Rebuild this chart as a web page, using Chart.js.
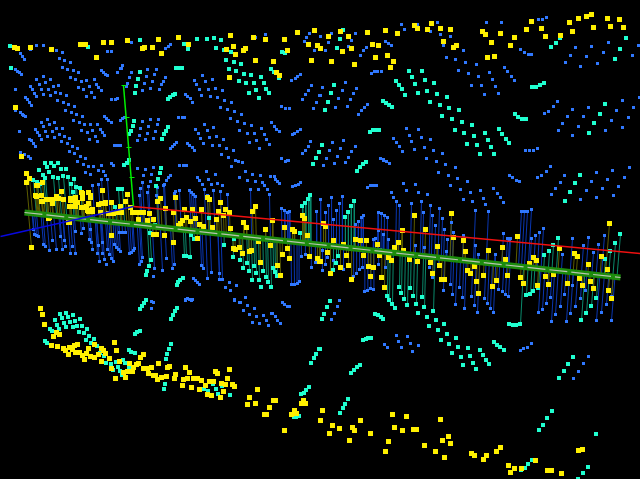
<!DOCTYPE html>
<html>
<head>
<meta charset="utf-8">
<title>3D scatter</title>
<style>
  html, body { margin: 0; padding: 0; background: #000; overflow: hidden; }
  canvas { display: block; }
</style>
<script src="https://cdn.jsdelivr.net/npm/chart.js@4"></script>
</head>
<body>
<canvas id="chart" width="640" height="479"></canvas>
<script>
// values, [x, y]
const yellowTop = [[14,47],[17,48],[30,47],[51,49],[80,44],[85,44],[96,57],[103,42],[111,42],[127,40],[142,48],[144,47],[152,47],[158,39],[161,53],[178,37],[188,44],[226,49],[230,35],[233,46],[235,54],[243,50],[245,48],[253,37],[255,60],[265,39],[273,61],[276,72],[279,75],[229,77],[284,39],[287,50],[297,32],[308,44],[311,60],[314,30],[317,45],[320,48],[15,107],[21,156],
  [328,36],[340,31],[348,36],[367,32],[385,30],[397,33],[414,25],[417,28],[427,29],[431,23],[440,28],[450,29],[443,41],[453,47],[456,45],[482,31],[485,34],[500,33],[491,42],[514,37],[510,45],[526,29],[531,21],[541,28],[545,36],[560,35],[569,22],[572,31],[578,18],[586,16],[591,14],[593,27],[607,18],[610,26],[619,19],[623,27],[342,51],[351,48],[331,61],[354,64],[372,44],[378,45],[375,57],[387,55],[393,61],[390,67],[487,57],[494,56]];
const yellowMid = [[26,173],[29,178],[26,182],[42,182],[36,185],[35,195],[41,195],[41,201],[46,199],[51,199],[52,203],[56,196],[61,191],[63,199],[69,206],[70,200],[75,197],[75,202],[81,192],[88,192],[90,195],[86,206],[81,207],[88,211],[92,211],[98,204],[102,190],[101,203],[105,202],[109,213],[113,213],[117,212],[120,206],[121,212],[125,201],[127,194],[132,212],[138,212],[143,212],[149,213],[138,219],[153,219],[147,220],[157,201],[160,198],[175,197],[165,208],[173,212],[192,209],[184,209],[186,217],[195,218],[182,220],[180,223],[178,225],[190,221],[201,209],[199,224],[203,226],[207,197],[209,199],[220,202],[218,211],[216,219],[225,209],[229,212],[223,215],[212,227],[230,228],[243,222],[246,227],[252,211],[255,206],[265,229],[272,220],[284,227],[292,229],[294,231],[307,235],[302,215],[304,218],[31,247],[69,222],[111,235],[153,234],[156,234],[164,235],[173,242],[197,238],[233,248],[235,249],[239,247],[242,253],[249,251],[251,250],[258,241],[260,262],[270,245],[277,265],[280,275],[282,254],[289,258],[287,248],[309,256],[317,258],[319,261],[49,217],
  [414,215],[451,213],[609,223],[402,230],[425,229],[517,236],[463,240],[398,242],[333,240],[355,239],[360,240],[366,240],[377,244],[394,247],[437,246],[453,237],[502,247],[488,250],[559,248],[574,253],[577,256],[601,256],[533,257],[536,260],[588,264],[607,269],[529,263],[505,259],[327,252],[343,244],[346,255],[363,255],[379,255],[388,257],[391,260],[403,250],[409,259],[417,261],[430,262],[439,265],[465,251],[467,270],[470,273],[474,266],[483,275],[432,273],[441,279],[444,279],[340,267],[348,265],[330,273],[351,279],[368,266],[373,267],[370,276],[381,277],[384,287],[320,261],[476,281],[496,280],[507,275],[492,286],[478,293],[520,277],[523,283],[537,285],[545,276],[548,284],[553,274],[567,283],[579,278],[582,285],[590,281],[593,288],[608,290],[611,298],[325,226],[323,223]];
const yellowDense = [[37,185],[36,196],[42,201],[47,199],[49,199],[56,198],[58,198],[70,198],[70,206],[77,202],[75,206],[82,193],[82,198],[90,197],[88,203],[83,207],[87,210],[92,209],[105,203],[111,202],[130,207],[137,212],[108,213],[112,213],[100,212],[48,218],[68,222]];
const yellowLow = [[40,308],[42,314],[44,324],[53,336],[56,332],[59,334],[51,345],[57,346],[63,348],[65,350],[68,354],[69,347],[72,349],[75,352],[74,345],[77,344],[79,352],[82,355],[84,359],[88,348],[86,353],[90,356],[94,344],[94,357],[98,354],[101,348],[103,350],[105,353],[101,361],[109,358],[114,342],[116,350],[111,368],[115,378],[119,361],[123,372],[125,377],[129,363],[127,371],[132,371],[133,367],[136,364],[138,363],[140,357],[143,354],[143,368],[147,368],[151,367],[148,373],[153,375],[155,375],[157,379],[161,377],[166,376],[158,363],[167,367],[169,366],[175,374],[174,378],[185,367],[189,372],[183,379],[187,378],[182,385],[191,387],[193,378],[197,378],[201,380],[199,389],[205,385],[207,394],[209,381],[213,381],[211,395],[215,371],[217,373],[220,397],[221,383],[225,384],[223,391],[227,378],[229,369],[232,384],[234,386],[247,404],[249,397],[255,403],[257,389],[264,414],[266,414],[269,407],[273,400],[275,400],[284,430],[291,414],[294,410],[296,413],[301,403],[303,400],[305,403],[320,420],
  [322,410],[332,425],[339,428],[329,433],[352,427],[354,430],[360,420],[370,433],[349,440],[392,414],[406,416],[394,427],[402,430],[413,429],[416,429],[388,441],[385,451],[440,419],[448,436],[442,440],[450,443],[424,445],[435,451],[444,457],[471,453],[474,455],[486,455],[483,459],[496,451],[500,447],[508,465],[514,468],[510,472],[521,468],[535,460],[547,470],[551,470],[561,473],[578,450],[582,449]];

const cyanTop = [[10,46],[88,47],[140,40],[184,44],[188,49],[197,39],[207,39],[214,38],[221,40],[216,48],[224,50],[231,52],[226,60],[234,62],[241,64],[229,69],[236,71],[244,74],[251,75],[261,77],[239,81],[246,83],[254,83],[264,83],[256,90],[266,89],[249,93],[259,98],[269,93],[271,69],[274,72],[279,78],[282,52],[285,53],[11,68],[140,72],[138,79],[136,86],[135,93],[176,68],[180,68],[182,68],[168,99],[170,97],[173,95],[175,94],[134,121],[133,126],[131,131],[129,134],[168,127],[166,131],[164,134],[162,139],[316,158],[319,152],
  [343,30],[340,39],[337,48],[334,85],[331,93],[328,102],[325,110],[409,71],[412,77],[415,84],[418,93],[422,71],[425,80],[427,91],[430,102],[434,83],[437,94],[440,105],[442,116],[447,97],[449,108],[452,119],[455,130],[459,110],[462,122],[464,133],[467,144],[472,125],[474,136],[477,145],[480,154],[485,133],[488,140],[491,147],[494,154],[499,129],[502,134],[506,139],[509,143],[396,81],[399,85],[402,89],[405,95],[383,101],[386,103],[389,105],[392,107],[370,132],[373,130],[376,130],[379,130],[515,114],[518,117],[522,119],[526,119],[532,87],[536,87],[540,85],[544,83],[551,47],[556,43],[560,38],[626,38],[620,49],[615,59],[605,104],[600,114],[594,123],[589,133],[322,145]];
const cyanMid = [[45,163],[51,163],[58,163],[47,167],[54,166],[39,170],[43,175],[49,172],[61,169],[66,169],[45,178],[53,177],[58,178],[63,176],[68,177],[74,179],[71,184],[76,187],[80,188],[73,192],[118,189],[122,189],[111,203],[115,207],[124,165],[127,163],[129,160],[161,168],[160,173],[158,179],[156,186],[33,180],[37,182],[40,184],[151,260],[149,266],[147,271],[146,275],[313,164],[310,195],[308,199],[305,203],[302,206],[183,278],[180,280],[178,282],[177,285],[184,256],[186,256],[190,257],[224,245],[233,257],[240,260],[243,268],[247,263],[254,266],[249,271],[256,273],[263,271],[252,280],[259,280],[266,277],[268,282],[261,287],[271,287],[273,268],[275,272],[277,276],[155,225],[150,233],[191,235],[194,239],[209,218],[234,239],[300,233],
  [366,162],[363,164],[360,167],[357,171],[354,201],[351,206],[348,212],[345,217],[580,175],[575,183],[570,192],[565,201],[558,238],[553,245],[549,251],[544,255],[620,234],[615,243],[610,251],[605,259],[338,256],[336,263],[333,270],[399,287],[401,293],[404,299],[407,305],[413,296],[416,304],[418,313],[410,288],[422,297],[424,307],[427,317],[433,311],[436,320],[387,296],[389,300],[392,304],[395,308],[375,314],[378,315],[381,317],[383,319],[330,301],[327,307],[324,314],[322,319],[526,295],[530,294],[533,291],[538,288],[596,298],[591,306],[586,313],[581,320]];
const cyanLow = [[140,309],[142,306],[144,303],[146,300],[171,319],[173,315],[175,311],[177,308],[135,334],[137,332],[140,331],[171,344],[169,349],[167,354],[166,359],[129,350],[131,352],[135,353],[311,363],[314,358],[316,354],[319,349],[165,384],[164,389],[301,394],[304,393],[306,390],[309,387],[60,314],[66,313],[73,315],[80,319],[55,320],[62,318],[68,317],[57,325],[64,323],[70,322],[75,321],[59,329],[66,327],[73,327],[77,326],[82,326],[79,332],[84,333],[87,329],[89,336],[86,340],[94,339],[50,329],[52,331],[45,341],[47,343],[91,343],[97,346],[106,363],[111,364],[116,362],[118,367],[123,360],[125,363],[120,371],[122,375],[129,367],[113,370],[104,356],[100,353],[204,389],[208,391],[213,384],[216,389],[218,394],[222,386],[230,395],[294,417],[296,417],[299,416],
  [363,340],[366,339],[368,338],[371,338],[351,373],[354,370],[357,367],[360,365],[340,413],[343,408],[345,404],[348,399],[429,326],[438,330],[444,324],[447,334],[441,340],[449,344],[456,338],[452,353],[458,347],[461,357],[468,348],[463,365],[470,356],[473,363],[476,369],[480,350],[483,355],[486,360],[489,364],[494,342],[497,345],[500,347],[504,350],[509,324],[513,325],[516,325],[520,324],[559,378],[564,371],[568,364],[573,357],[539,430],[543,425],[547,418],[552,411],[596,434],[588,467],[583,473],[578,479],[532,460],[528,464],[525,468],[521,470],[320,349]];

const blueLeft = [[30,49],[36,45],[43,45],[56,50],[62,52],[59,58],[64,60],[70,62],[20,53],[22,56],[24,59],[62,67],[67,69],[73,70],[78,72],[70,77],[75,79],[81,81],[86,80],[94,79],[96,84],[89,86],[98,87],[101,90],[78,87],[83,89],[91,92],[86,96],[94,97],[15,69],[17,71],[19,72],[21,74],[36,79],[43,76],[50,79],[45,82],[39,84],[30,86],[32,89],[41,89],[48,89],[53,86],[58,85],[34,93],[43,94],[50,95],[55,92],[60,93],[66,95],[36,96],[25,97],[27,99],[29,102],[31,105],[57,100],[63,102],[68,104],[74,106],[65,110],[71,112],[76,114],[82,116],[73,120],[79,122],[84,124],[90,124],[97,124],[81,130],[87,132],[92,130],[100,129],[102,132],[104,135],[95,136],[89,139],[97,141],[20,112],[22,114],[23,115],[25,116],[15,110],[47,119],[54,122],[41,122],[49,124],[43,126],[56,128],[62,128],[35,129],[37,132],[39,135],[45,131],[52,131],[59,134],[64,136],[69,138],[47,136],[54,137],[41,139],[29,139],[31,140],[33,143],[35,146],[61,141],[67,143],[72,146],[77,148],[69,151],[74,153],[80,156],[85,158],[20,152],[24,154],[28,156],[30,158],[19,131],
  [107,51],[111,51],[15,89],[111,99],[115,99],[117,98],[114,145],[117,145],[120,145],[178,117],[182,117],[184,117],[131,42],[165,48],[168,46],[170,44],[117,72],[120,68],[121,68],[122,65],[101,70],[103,72],[105,74],[107,75],[131,72],[147,69],[156,69],[154,74],[146,76],[129,77],[127,83],[144,83],[152,81],[163,81],[165,77],[161,84],[142,90],[150,88],[159,89],[126,86],[104,116],[106,118],[108,120],[111,122],[120,120],[122,118],[124,117],[142,121],[150,119],[158,119],[140,128],[148,126],[157,124],[147,133],[155,131],[139,135],[137,140],[145,139],[153,138],[170,148],[172,146],[174,144],[176,142],
  [194,80],[196,84],[199,89],[201,95],[202,75],[205,81],[212,79],[208,89],[215,88],[222,90],[210,96],[217,97],[224,100],[231,102],[220,107],[227,109],[234,111],[241,114],[230,118],[237,121],[244,123],[251,125],[239,130],[247,133],[254,133],[261,128],[264,134],[266,139],[269,144],[256,140],[249,142],[259,148],[185,94],[187,96],[190,98],[192,102],[204,124],[213,127],[195,129],[207,130],[198,133],[200,138],[209,137],[216,136],[223,139],[203,143],[212,145],[219,145],[226,148],[233,150],[221,154],[228,157],[235,160],[187,143],[189,145],[192,147],[194,150],[281,106],[285,108],[289,108],[271,122],[274,126],[276,129],[279,131],[292,134],[294,133],[297,131],[300,129],[310,141],[308,146],[305,150],[302,153],[281,158],[287,160],[265,34],[255,37],[306,37],[309,33],[304,41],[314,50],[320,36],[291,80],[295,78],[297,76],[300,74],[311,85],[308,90],[305,94],[302,99],[316,102],[313,108],[319,95]];
const blueRight = [[331,33],[351,40],[355,33],[328,42],[348,46],[325,50],[366,47],[363,50],[360,55],[385,41],[388,43],[391,45],[401,24],[404,29],[417,24],[437,22],[430,31],[440,34],[450,36],[443,45],[463,50],[446,57],[455,59],[465,62],[476,64],[458,70],[468,73],[478,76],[489,72],[492,79],[495,86],[471,85],[481,85],[484,94],[498,93],[504,67],[507,71],[511,76],[514,80],[486,22],[501,22],[538,19],[542,19],[546,17],[520,49],[524,52],[528,54],[531,54],[575,47],[591,46],[608,42],[638,45],[570,55],[586,56],[603,52],[632,55],[565,62],[597,63],[580,66],[371,73],[374,71],[377,71],[381,71],[322,87],[345,82],[342,90],[356,88],[353,93],[338,98],[350,99],[335,107],[347,106],[320,95],[358,114],[361,110],[364,107],[367,104],[406,128],[418,129],[393,138],[409,135],[421,137],[430,139],[396,142],[411,141],[399,146],[424,147],[402,151],[414,149],[433,150],[442,153],[426,158],[380,158],[383,159],[557,101],[553,106],[548,111],[544,113],[622,100],[639,97],[588,107],[572,109],[633,107],[616,110],[583,116],[567,116],[628,117],[611,120],[562,123],[578,126],[622,127],[558,130],[605,130],[572,135],[525,150],[529,150],[533,150],[537,148],[332,142],[343,140],[355,146],[329,150],[340,148],[351,151],[337,156],[348,157],[326,158]];
const blueMidLeft = [[77,161],[83,164],[88,166],[93,166],[101,165],[85,172],[90,174],[98,170],[103,171],[105,175],[107,179],[111,163],[113,165],[101,179],[98,184],[92,185],[137,168],[145,169],[153,167],[143,175],[151,174],[170,175],[168,177],[166,180],[164,184],[163,185],[142,182],[150,181],[140,188],[148,186],[157,187],[139,195],[156,195],[147,192],[175,191],[179,190],[174,193],[179,165],[183,165],[186,165],[206,171],[197,177],[199,180],[215,174],[208,179],[202,184],[211,184],[217,183],[222,185],[204,189],[213,190],[220,191],[227,194],[207,195],[231,166],[238,161],[242,162],[245,171],[252,174],[260,175],[239,177],[247,180],[255,181],[262,182],[264,185],[270,176],[274,176],[275,179],[277,181],[279,183],[250,189],[258,189],[267,189],[269,194],[189,190],[191,192],[193,194],[195,196],[292,186],[295,185],[298,184],[300,182],[285,161],[288,160],[316,211],[281,208],[284,210],[287,212],[289,211],
  [81,233],[83,228],[90,229],[75,231],[52,240],[60,236],[64,240],[89,239],[92,249],[97,253],[102,253],[99,261],[106,264],[104,259],[109,254],[111,258],[113,261],[91,242],[98,245],[107,249],[102,242],[114,244],[116,247],[118,249],[120,251],[129,253],[131,252],[133,250],[134,248],[119,232],[122,232],[125,232],[142,257],[139,264],[141,261],[153,276],[154,268],[162,270],[166,258],[174,264],[172,268],[203,268],[201,265],[207,278],[211,272],[219,279],[222,279],[219,273],[229,282],[225,287],[236,285],[230,290],[234,299],[239,302],[245,297],[247,305],[243,310],[249,314],[254,308],[256,316],[263,315],[271,313],[275,316],[282,302],[284,304],[287,306],[289,306],[151,301],[151,308],[185,299],[187,298],[189,299],[192,299],[193,278],[195,280],[197,282],[199,284],[291,284],[294,284],[297,283],[299,281],[301,256],[305,254],[311,267],[315,262],[38,236],[33,229],[34,234],[36,235],[43,244],[45,246],[49,250],[56,249],[62,249],[65,246],[72,246],[70,253],[75,253]];
const blueMidRight = [[323,165],[334,163],[345,162],[383,160],[386,161],[389,163],[436,161],[445,164],[455,167],[438,172],[448,175],[457,178],[467,181],[450,185],[460,189],[470,192],[480,190],[493,188],[497,193],[500,197],[503,202],[463,199],[472,201],[483,198],[485,204],[550,166],[546,171],[541,175],[537,177],[509,175],[512,177],[516,180],[519,181],[560,182],[564,175],[555,188],[551,194],[596,172],[612,170],[629,167],[624,177],[591,181],[607,179],[586,190],[602,188],[618,186],[580,199],[596,197],[613,195],[403,183],[415,184],[406,190],[418,192],[427,194],[391,192],[393,197],[396,201],[399,205],[411,203],[421,201],[430,205],[367,187],[370,185],[373,185],[376,185],[521,211],[524,211],[527,211],[531,209],
  [320,199],[331,197],[342,196],[328,205],[339,203],[325,212],[336,210],[333,219],[363,215],[361,217],[358,221],[355,224],[378,212],[381,213],[384,215],[387,217],[378,230],[383,234],[388,239],[439,208],[432,215],[423,212],[442,218],[435,225],[451,222],[444,229],[453,232],[463,235],[475,210],[488,211],[503,233],[507,238],[510,238],[531,238],[539,232],[543,228],[535,235],[572,238],[562,254],[588,237],[583,245],[598,244],[604,235],[593,252],[322,250],[327,257],[325,264],[322,270],[333,260],[343,269],[359,269],[362,267],[356,273],[353,276],[373,239],[375,238],[380,249],[378,264],[385,267],[415,245],[424,247],[429,267],[438,264],[432,277],[447,239],[446,251],[450,284],[459,287],[452,294],[462,297],[471,296],[474,305],[464,308],[455,304],[477,312],[484,298],[487,303],[490,308],[493,312],[498,289],[502,291],[505,294],[508,296],[364,291],[367,290],[370,288],[373,289],[443,290],[475,245],[478,254],[495,254],[509,239],[550,297],[546,303],[542,309],[538,312],[560,306],[555,314],[570,313],[575,306],[580,298],[585,290],[601,312],[606,304],[611,296],[564,294],[572,285],[551,321],[566,321],[596,320],[611,320]];
const blueLow = [[339,300],[337,306],[334,313],[331,319],[396,335],[407,336],[384,344],[398,341],[410,343],[418,345],[387,347],[401,347],[412,351],[520,350],[523,348],[527,347],[531,343],[588,356],[583,363],[578,371],[573,378],[153,302],[151,308],[185,300],[191,300],[234,300],[240,302],[252,322],[259,323],[266,320],[268,325],[272,313],[275,316],[277,320],[280,323]];

// the long green bar, the axes and their tick marks
const barLine = [[24,212],[620,277]];
const redAxis = [[133,206],[640,253]];
const blueAxis = [[0,236],[133,206]];
const greenAxis = [[123,85],[133,206]];
const greenTicks = [[[121,85],[126,85]],[[124,117],[129,117]],[[126,147],[131,147]],[[129,177],[134,177]]];

const YELLOW = '#fff000', CYAN = '#20ffd0', BLUE = '#3078ff';

const yellowPts = [...yellowTop, ...yellowMid, ...yellowDense, ...yellowLow];
const cyanPts = [...cyanTop, ...cyanMid, ...cyanLow];
const bluePts = [...blueLeft, ...blueRight, ...blueMidLeft, ...blueMidRight, ...blueLow];

const toXY = list => list.map(p => ({ x: p[0], y: p[1] }));

function barY(x) {
  const [a, b] = barLine;
  return a[1] + (x - a[0]) * (b[1] - a[1]) / (b[0] - a[0]);
}

// each point close enough to the bar hangs on a thin stem, leaning a little with the view
function stems(points) {
  const out = [];
  points.forEach(p => {
    const x = p[0], y = p[1];
    if (x < 20 || x > 622) return;
    const foot = barY(x);
    if (Math.abs(foot - y) > 38 + 0.04 * x) return;
    const lean = 0.09 - 0.00029 * (x - 25);
    out.push({ x: x, y: y }, { x: x + (foot - y) * lean, y: foot }, { x: null, y: null });
  });
  return out;
}

function lineSet(data, color, width, order, dash) {
  return { data: data, showLine: true, borderColor: color, borderWidth: width, pointRadius: 0,
    tension: 0, spanGaps: false, order: order, borderDash: dash || [] };
}

function pointSet(data, color, side, order, cyan) {
  const set = { data: toXY(data), backgroundColor: color, borderWidth: 0, pointStyle: 'rect',
    pointRadius: side / Math.SQRT2, order: order };
  if (cyan) { set.xAxisID = 'xe'; set.yAxisID = 'ye'; }
  return set;
}

const ctx = document.getElementById('chart').getContext('2d');
const chart = new Chart(ctx, {
  type: 'scatter',
  data: {
    datasets: [
      lineSet(toXY(redAxis), '#f01010', 1.5, 1),
      lineSet(toXY(blueAxis), '#0808e0', 1.5, 2),
      lineSet(toXY(barLine), '#b8c4b0', 1.2, 3, [18, 4]),
      lineSet(toXY(barLine), '#1c8c0c', 6, 4),
      lineSet(toXY(greenAxis), '#00f000', 1.5, 5),
      ...greenTicks.map(t => lineSet(toXY(t), '#00f000', 1, 5)),
      pointSet(yellowPts, YELLOW, 5, 6, false),
      pointSet(cyanPts, CYAN, 4, 7, true),
      pointSet(bluePts, BLUE, 3, 8, false),
      lineSet(stems(yellowPts), '#5c5c00', 1, 9),
      lineSet(stems(cyanPts), '#0a8a6c', 1, 10),
      lineSet(stems(bluePts), '#0a36b0', 1, 11)
    ]
  },
  options: {
    responsive: false,
    animation: false,
    events: [],
    layout: { padding: 0, autoPadding: false },
    plugins: { legend: { display: false }, tooltip: { enabled: false } },
    scales: {
      x: { type: 'linear', display: false, min: -0.5, max: 639.5 },
      y: { type: 'linear', display: false, min: -0.5, max: 478.5, reverse: true },
      xe: { type: 'linear', display: false, min: 0, max: 640 },
      ye: { type: 'linear', display: false, min: 0, max: 479, reverse: true }
    }
  }
});
</script>
</body>
</html>
